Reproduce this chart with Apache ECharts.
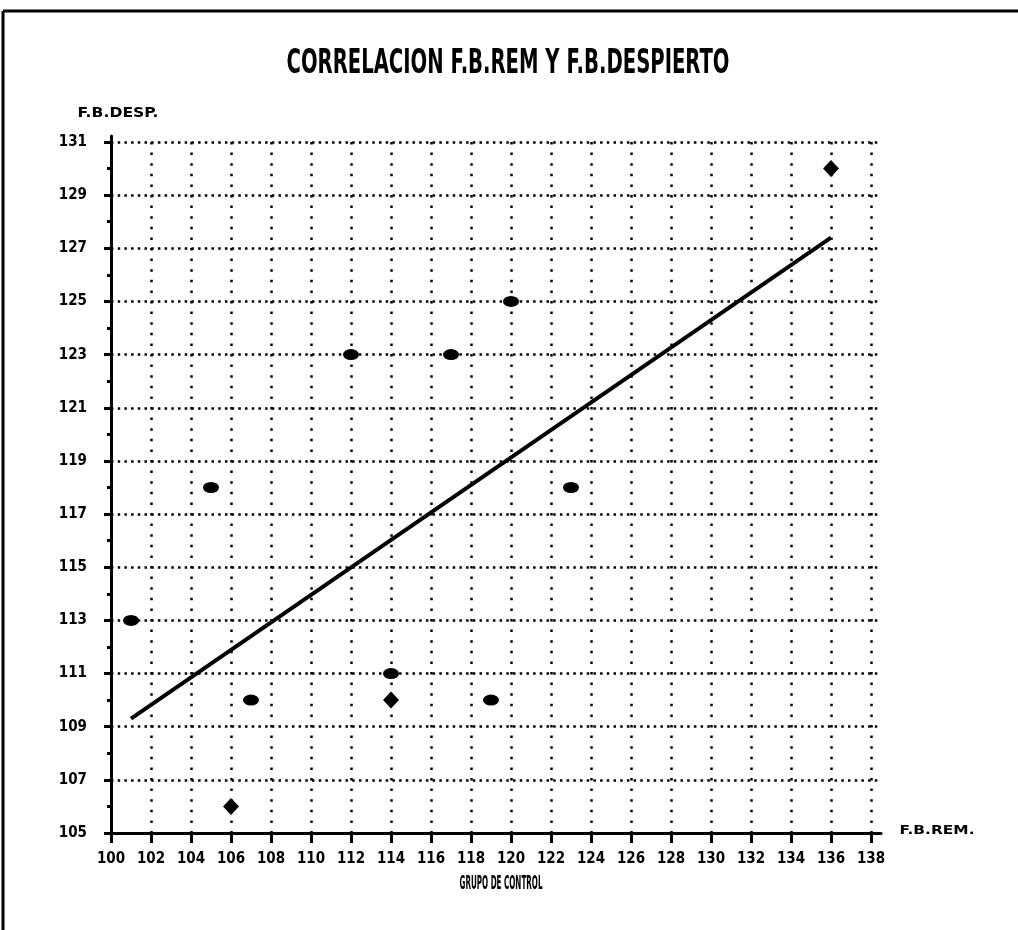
<!DOCTYPE html>
<html>
<head>
<meta charset="utf-8">
<script src="https://cdn.jsdelivr.net/npm/echarts@6/dist/echarts.min.js"></script>
<style>
html,body{margin:0;padding:0;background:#fff;}
#chart{width:1018px;height:930px;}
</style>
</head>
<body>
<div id="chart"></div>
<script>
// ---- data ----
const titleText = 'CORRELACION F.B.REM Y F.B.DESPIERTO';
const yAxisName = 'F.B.DESP.';
const xAxisName = 'F.B.REM.';
const captionText = 'GRUPO DE CONTROL';

// points drawn as ellipses
const ellipseRem  = [101, 105, 107, 112, 114, 117, 119, 120, 123];
const ellipseDesp = [113, 118, 110, 123, 111, 123, 110, 125, 118];
// points drawn as diamonds
const diamondRem  = [106, 114, 136];
const diamondDesp = [106, 110, 130];
// regression line end points
const fitRem  = [101, 136];
const fitDesp = [109.3, 127.4];

const xTicks = [100, 138, 2];   // min, max, step
const yTicks = [105, 131, 2];

// ---- helpers ----
const LABEL_FONT = '"DejaVu Sans Condensed", sans-serif';
const HEAD_FONT = '"DejaVu Sans Condensed", sans-serif';
const ctx = document.createElement('canvas').getContext('2d');
function fitText(text, size, cx, cy, targetW, sy) {
  const font = 'bold ' + size + 'px ' + HEAD_FONT;
  ctx.font = font;
  const w = ctx.measureText(text).width || targetW;
  return {
    type: 'text', x: cx, y: cy, scaleX: targetW / w, scaleY: sy || 1,
    style: { text: text, font: font, fill: '#000', align: 'center', verticalAlign: 'middle' }
  };
}
const pairs = (a, b) => a.map((v, i) => [v, b[i]]);

const chart = echarts.init(document.getElementById('chart'), null, {renderer: 'canvas'});
const black = '#000';

const option = {
  backgroundColor: '#fff',
  animation: false,
  grid: [
    {left: 111, top: 136, width: 770, height: 697},   // axis-line grid (extends a little past last ticks)
    {left: 111, top: 142, width: 760, height: 691}    // data grid
  ],
  xAxis: [
    {
      gridIndex: 0, type: 'value', min: xTicks[0], max: 138.5,
      axisLine: {show: true, lineStyle: {color: black, width: 3}},
      axisTick: {show: false}, axisLabel: {show: false}, splitLine: {show: false}
    },
    {
      gridIndex: 1, type: 'value', min: xTicks[0], max: xTicks[1], interval: xTicks[2],
      axisLine: {show: false},
      axisTick: {show: true, length: 10, lineStyle: {color: black, width: 3}},
      axisLabel: {show: true, margin: 19, color: black, fontFamily: LABEL_FONT, fontWeight: 'bold', fontSize: 15},
      splitLine: {show: true, showMinLine: false, showMaxLine: true,
        lineStyle: {color: black, width: 2.5, type: [2.5, 8.1]}}
    }
  ],
  yAxis: [
    {
      gridIndex: 0, type: 'value', min: yTicks[0], max: 131.226, interval: yTicks[2],
      axisLine: {show: true, lineStyle: {color: black, width: 3}},
      axisTick: {show: false}, axisLabel: {show: false},
      splitLine: {show: true, showMinLine: false, showMaxLine: false,
        lineStyle: {color: black, width: 2.5, type: [2.5, 4.2]}}
    },
    {
      gridIndex: 1, type: 'value', min: yTicks[0], max: yTicks[1], interval: yTicks[2],
      axisLine: {show: false},
      axisTick: {show: true, length: 7, lineStyle: {color: black, width: 3}},
      minorTick: {show: true, splitNumber: 2, length: 4, lineStyle: {color: black, width: 3}},
      axisLabel: {show: true, margin: 24, color: black, fontFamily: LABEL_FONT, fontWeight: 'bold', fontSize: 15},
      splitLine: {show: false}
    }
  ],
  series: [
    {
      type: 'line', xAxisIndex: 1, yAxisIndex: 1, data: pairs(fitRem, fitDesp),
      symbol: 'none', lineStyle: {color: black, width: 4}, z: 3
    },
    {
      type: 'scatter', xAxisIndex: 1, yAxisIndex: 1, data: pairs(ellipseRem, ellipseDesp),
      symbol: 'circle', symbolSize: [16, 11], itemStyle: {color: black, opacity: 1}, z: 4
    },
    {
      type: 'scatter', xAxisIndex: 1, yAxisIndex: 1, data: pairs(diamondRem, diamondDesp),
      symbol: 'diamond', symbolSize: [16, 17], itemStyle: {color: black, opacity: 1}, z: 4
    }
  ],
  graphic: [
    {type: 'line', shape: {x1: 3, y1: 11, x2: 1018, y2: 11}, style: {stroke: black, lineWidth: 3}},
    {type: 'line', shape: {x1: 3, y1: 11, x2: 3, y2: 930}, style: {stroke: black, lineWidth: 3}},
    fitText(titleText, 32, 508, 64, 443, 1.08),
    fitText(yAxisName, 14, 118, 113, 81),
    fitText(xAxisName, 13, 937, 831, 75),
    fitText(captionText, 16, 501, 884, 83, 1.2)
  ]
};
chart.setOption(option);
</script>
</body>
</html>
